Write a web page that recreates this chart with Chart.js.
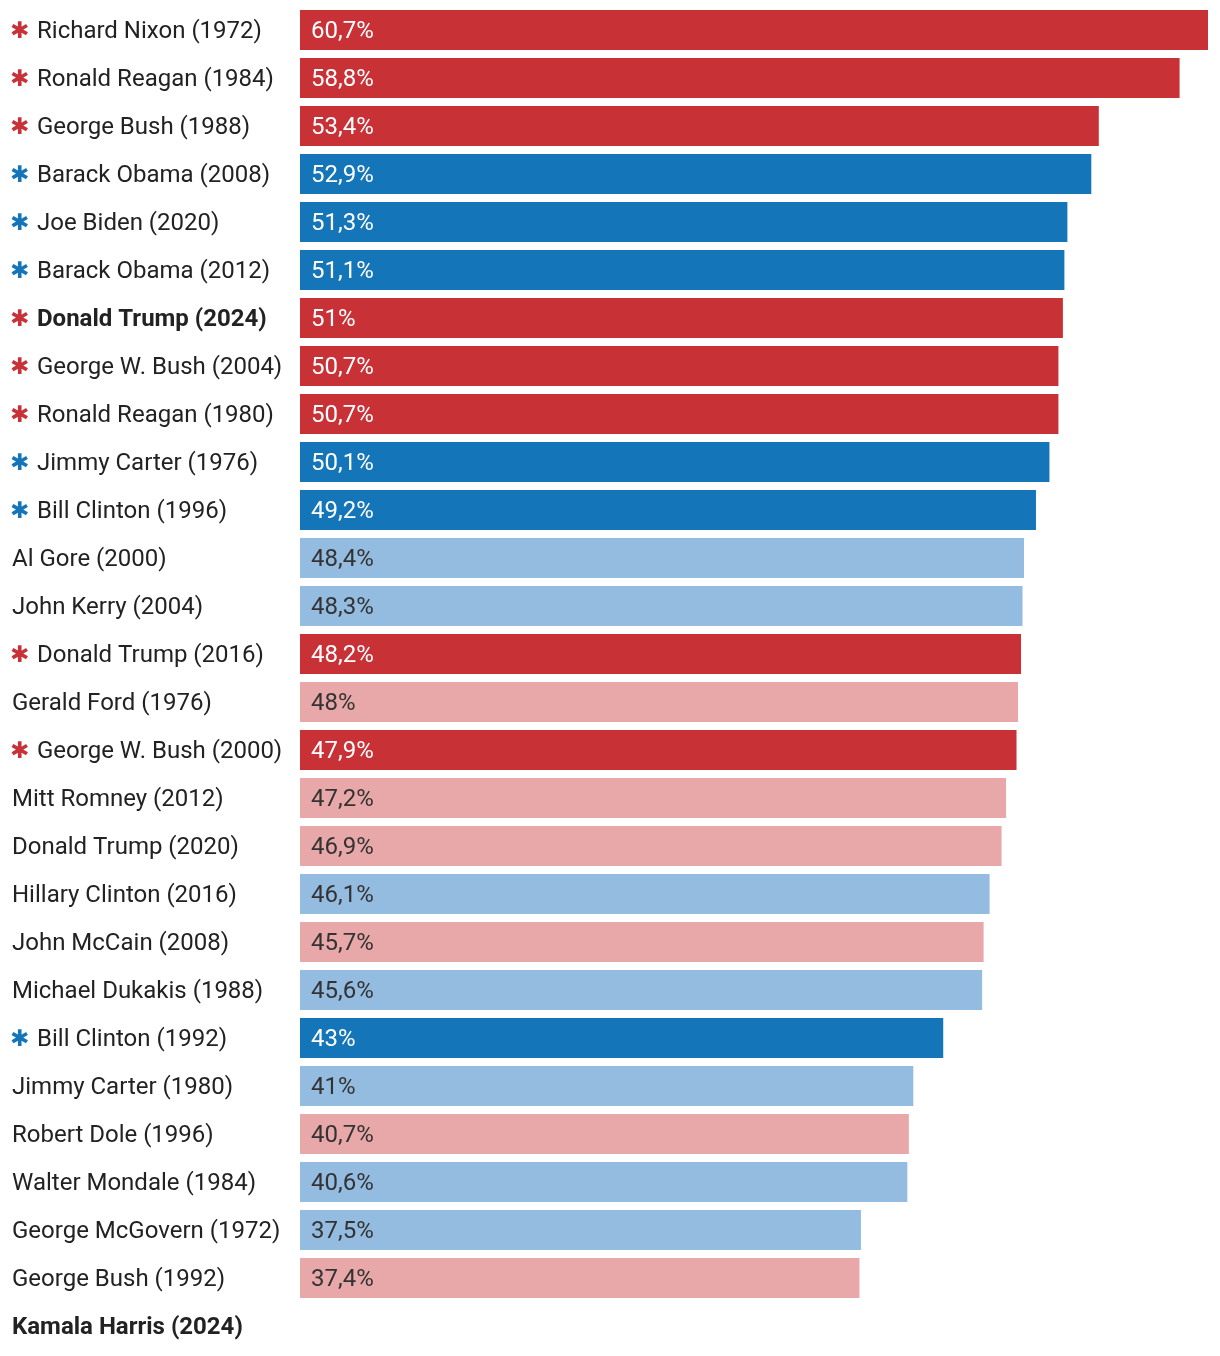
<!DOCTYPE html>
<html>
<head>
<meta charset="utf-8">
<script src="https://cdn.jsdelivr.net/npm/chart.js@4/dist/chart.umd.min.js"></script>
<style>
  html, body { margin: 0; padding: 0; background: #fff; }
  #wrap { width: 1220px; height: 1356px; position: relative; }
</style>
</head>
<body>
<div id="wrap"><canvas id="chart"></canvas></div>
<script>
// candidates, sorted by popular vote share
const names = [
  'Richard Nixon (1972)', 'Ronald Reagan (1984)', 'George Bush (1988)', 'Barack Obama (2008)',
  'Joe Biden (2020)', 'Barack Obama (2012)', 'Donald Trump (2024)', 'George W. Bush (2004)',
  'Ronald Reagan (1980)', 'Jimmy Carter (1976)', 'Bill Clinton (1996)', 'Al Gore (2000)',
  'John Kerry (2004)', 'Donald Trump (2016)', 'Gerald Ford (1976)', 'George W. Bush (2000)',
  'Mitt Romney (2012)', 'Donald Trump (2020)', 'Hillary Clinton (2016)', 'John McCain (2008)',
  'Michael Dukakis (1988)', 'Bill Clinton (1992)', 'Jimmy Carter (1980)', 'Robert Dole (1996)',
  'Walter Mondale (1984)', 'George McGovern (1972)', 'George Bush (1992)', 'Kamala Harris (2024)'
];
const shares = [
  60.7, 58.8, 53.4, 52.9, 51.3, 51.1, 51, 50.7, 50.7, 50.1, 49.2, 48.4, 48.3, 48.2,
  48, 47.9, 47.2, 46.9, 46.1, 45.7, 45.6, 43, 41, 40.7, 40.6, 37.5, 37.4, null
];
const parties = [
  'R', 'R', 'R', 'D', 'D', 'D', 'R', 'R', 'R', 'D', 'D', 'D', 'D', 'R',
  'R', 'R', 'R', 'R', 'D', 'R', 'D', 'D', 'D', 'R', 'D', 'D', 'R', 'D'
];
const winners = [
  1, 1, 1, 1, 1, 1, 1, 1, 1, 1, 1, 0, 0, 1,
  0, 1, 0, 0, 0, 0, 0, 1, 0, 0, 0, 0, 0, 0
];
const highlighted = ['Donald Trump (2024)', 'Kamala Harris (2024)'];

const colors = {
  R: { win: '#c83237', lose: '#e8a7a8' },
  D: { win: '#1476b9', lose: '#93bce0' }
};
const barColors = parties.map((p, i) => winners[i] ? colors[p].win : colors[p].lose);

const FONT = 'Roboto, "Noto Sans", sans-serif';

// left-hand labels with asterisk for winners
const labelPlugin = {
  id: 'labels',
  afterDraw(chart) {
    const ctx = chart.ctx;
    const y = chart.scales.y;
    ctx.save();
    ctx.textAlign = 'left';
    names.forEach((name, i) => {
      const py = y.getPixelForTick(i);
      let x = 12;
      if (winners[i]) {
        ctx.fillStyle = colors[parties[i]].win;
        ctx.textBaseline = 'middle';
        ctx.font = 'bold 23px "DejaVu Sans", sans-serif';
        ctx.fillText('\u2731', 10, py + 2);
        x = 37;
      }
      ctx.fillStyle = '#222';
      ctx.textBaseline = 'alphabetic';
      ctx.font = (highlighted.includes(name) ? 'bold ' : '') + '24px ' + FONT;
      ctx.fillText(name, x, py + 8);
    });
    ctx.restore();
  }
};

// value labels inside the bars
const valuePlugin = {
  id: 'values',
  afterDatasetsDraw(chart) {
    const ctx = chart.ctx;
    const meta = chart.getDatasetMeta(0);
    ctx.save();
    ctx.textBaseline = 'alphabetic';
    ctx.textAlign = 'left';
    ctx.font = '24px ' + FONT;
    meta.data.forEach((bar, i) => {
      if (shares[i] == null) return;
      ctx.fillStyle = winners[i] ? '#fff' : '#333';
      ctx.fillText(String(shares[i]).replace('.', ',') + '%', bar.base + 11, bar.y + 8);
    });
    ctx.restore();
  }
};

new Chart(document.getElementById('chart'), {
  type: 'bar',
  data: {
    labels: names,
    datasets: [{
      data: shares,
      backgroundColor: barColors,
      borderWidth: 0,
      categoryPercentage: 1,
      barPercentage: 40 / 48
    }]
  },
  options: {
    indexAxis: 'y',
    responsive: true,
    maintainAspectRatio: false,
    animation: false,
    layout: { padding: { left: 300, right: 12, top: 6, bottom: 6 } },
    plugins: {
      legend: { display: false },
      tooltip: { enabled: false }
    },
    scales: {
      x: { display: false, min: 0, max: 60.7 },
      y: { display: false }
    }
  },
  plugins: [labelPlugin, valuePlugin]
});
</script>
</body>
</html>
